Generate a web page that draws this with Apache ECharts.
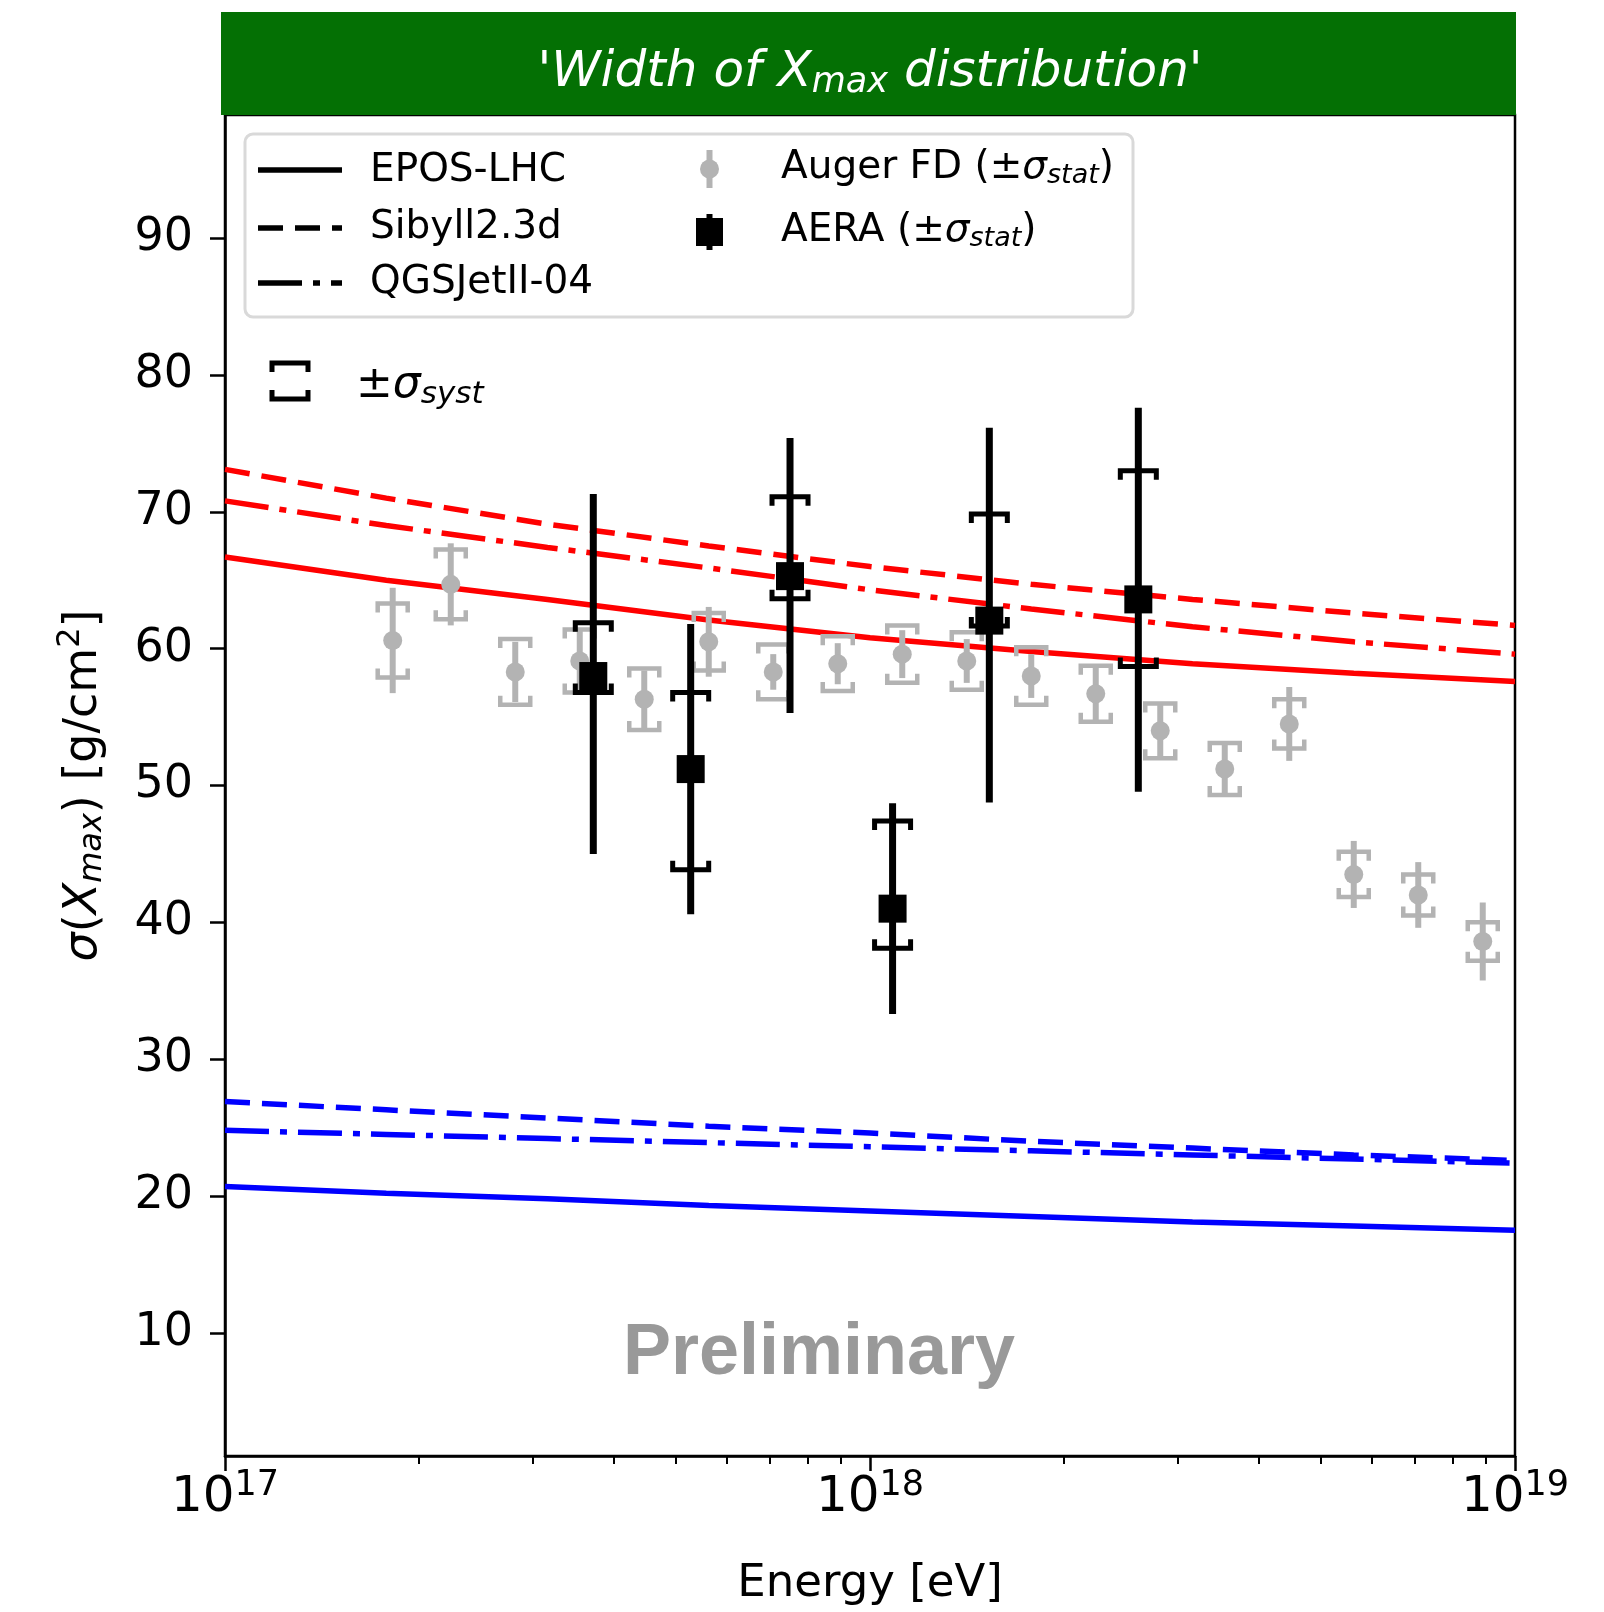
<!DOCTYPE html>
<html>
<head>
<meta charset="utf-8">
<script src="https://cdn.jsdelivr.net/npm/echarts@6/dist/echarts.min.js"></script>
<style>
html, body { margin: 0; padding: 0; background: #fff; }
#chart { width: 1604px; height: 1612px; }
</style>
</head>
<body>
<div id="chart"></div>
<script>
// model predictions (proton = red, iron = blue), read at these log10(E/eV)
var modelLogE = [17.0, 17.25, 17.5, 17.75, 18.0, 18.25, 18.5, 18.75, 19.0];
var eposP   = [66.7, 65.0, 63.6, 62.1, 60.8, 59.8, 58.9, 58.2, 57.6];
var sibyllP = [73.1, 71.0, 69.1, 67.5, 66.0, 64.7, 63.6, 62.6, 61.7];
var qgsjetP = [70.8, 69.0, 67.4, 65.9, 64.3, 62.9, 61.6, 60.5, 59.6];
var eposFe   = [20.7, 20.2, 19.8, 19.3, 18.9, 18.5, 18.1, 17.8, 17.5];
var sibyllFe = [26.9, 26.3, 25.7, 25.1, 24.6, 24.0, 23.5, 23.0, 22.6];
var qgsjetFe = [24.8, 24.5, 24.2, 23.9, 23.6, 23.3, 23.0, 22.7, 22.4];

// Auger FD
var augerLogE = [17.26, 17.35, 17.45, 17.55, 17.65, 17.75, 17.85, 17.95, 18.05,
                 18.15, 18.25, 18.35, 18.45, 18.55, 18.65, 18.75, 18.85, 18.95];
var augerVal  = [60.6, 64.7, 58.3, 59.1, 56.3, 60.5, 58.3, 58.9, 59.6,
                 59.1, 58.0, 56.7, 54.0, 51.2, 54.5, 43.5, 42.0, 38.6];
var augerStat = [3.85, 3.0, 2.2, 2.2, 2.1, 2.55, 1.3, 1.5, 1.75,
                 1.6, 1.6, 1.95, 1.9, 1.9, 2.7, 2.45, 2.4, 2.85];
var augerSyst = [2.7, 2.55, 2.4, 2.3, 2.25, 2.1, 2.0, 2.0, 2.1,
                 2.1, 2.1, 2.05, 2.0, 1.9, 1.8, 1.65, 1.5, 1.4];

// AERA
var aeraLogE = [17.571, 17.722, 17.876, 18.035, 18.185, 18.416];
var aeraVal  = [58.0, 51.2, 65.3, 41.0, 62.05, 63.6];
var aeraStatUp   = [13.3, 10.6, 10.1, 7.7, 14.1, 14.0];
var aeraStatDown = [13.0, 10.6, 10.0, 7.7, 13.3, 14.05];
var aeraSystUp   = [3.9, 5.6, 5.8, 6.4, 7.8, 9.4];
var aeraSystDown = [1.2, 7.35, 1.65, 2.9, 0.4, 4.9];

var yTicks = [10, 20, 30, 40, 50, 60, 70, 80, 90];
var xMinorTicks = [];
[17, 18].forEach(function (d) {
    for (var k = 2; k <= 9; k++) xMinorTicks.push(d + Math.log10(k));
});

var RED = '#ff0000', BLUE = '#0000ff', GRAY = '#b3b3b3';
var FONT = 'DejaVu Sans';
var dashS = [25, 12];
var dashQ = [44, 11, 7, 11];

function pairs(xs, ys) {
    return xs.map(function (x, i) { return [x, ys[i]]; });
}

function modelLine(name, ys, color, dash) {
    return {
        name: name, type: 'line', data: pairs(modelLogE, ys),
        showSymbol: false, smooth: false, z: 2,
        lineStyle: { color: color, width: 5.5, type: dash || 'solid', cap: 'butt' }
    };
}

function errLine(color, width) {
    return function (params, api) {
        var a = api.coord([api.value(0), api.value(2)]);
        var b = api.coord([api.value(0), api.value(3)]);
        return {
            type: 'line',
            shape: { x1: a[0], y1: a[1], x2: b[0], y2: b[1] },
            style: { stroke: color, lineWidth: width }
        };
    };
}

function brackets(color, width, half, leg) {
    return function (params, api) {
        var lo = api.coord([api.value(0), api.value(2)]);
        var hi = api.coord([api.value(0), api.value(3)]);
        var x = hi[0];
        var st = { stroke: color, lineWidth: width, fill: 'none', lineJoin: 'miter' };
        return {
            type: 'group',
            children: [
                { type: 'polyline', shape: { points: [[x - half, hi[1] + leg], [x - half, hi[1]], [x + half, hi[1]], [x + half, hi[1] + leg]] }, style: st },
                { type: 'polyline', shape: { points: [[x - half, lo[1] - leg], [x - half, lo[1]], [x + half, lo[1]], [x + half, lo[1] - leg]] }, style: st }
            ]
        };
    };
}

var augerStatData = augerLogE.map(function (x, i) {
    return [x, augerVal[i], augerVal[i] - augerStat[i], augerVal[i] + augerStat[i]];
});
var augerSystData = augerLogE.map(function (x, i) {
    return [x, augerVal[i], augerVal[i] - augerSyst[i], augerVal[i] + augerSyst[i]];
});
var aeraStatData = aeraLogE.map(function (x, i) {
    return [x, aeraVal[i], aeraVal[i] - aeraStatDown[i], aeraVal[i] + aeraStatUp[i]];
});
var aeraSystData = aeraLogE.map(function (x, i) {
    return [x, aeraVal[i], aeraVal[i] - aeraSystDown[i], aeraVal[i] + aeraSystUp[i]];
});

var chart = echarts.init(document.getElementById('chart'));

var gridBox = { left: 225, right: 89, top: 115, bottom: 155 };

var LZ = 60;   // legend contents drawn above legend frame

function legendLine(y, dash) {
    return {
        type: 'line', z: LZ, shape: { x1: 258, y1: y, x2: 342, y2: y },
        style: { stroke: '#000', lineWidth: 5.5, lineDash: dash || null, lineCap: 'butt' }
    };
}
function legendText(x, y, text, size) {
    size = size || 39;
    var subSize = Math.round(size * 0.7);
    return {
        type: 'text', x: x, y: y, z: LZ,
        style: {
            text: text, fontFamily: FONT, fontSize: size, fill: '#000',
            verticalAlign: 'middle', align: 'left',
            rich: {
                it: { fontFamily: FONT, fontStyle: 'italic', fontSize: size, fill: '#000' },
                sub: { fontFamily: FONT, fontStyle: 'italic', fontSize: subSize, padding: [Math.round(size * 0.42), 0, 0, 0], fill: '#000' },
                n: { fontFamily: FONT, fontSize: size, fill: '#000' }
            }
        }
    };
}
function bracketShape(x, yTop, yBot, half, leg, w) {
    var st = { stroke: '#000', lineWidth: w, fill: 'none' };
    return [
        { type: 'polyline', z: LZ, shape: { points: [[x - half, yTop + leg], [x - half, yTop], [x + half, yTop], [x + half, yTop + leg]] }, style: st },
        { type: 'polyline', z: LZ, shape: { points: [[x - half, yBot - leg], [x - half, yBot], [x + half, yBot], [x + half, yBot - leg]] }, style: st }
    ];
}
var systKey = bracketShape(290, 363, 399, 18, 9, 5);

var option = {
    animation: false,
    backgroundColor: '#fff',
    grid: [
        { left: gridBox.left, right: gridBox.right, top: gridBox.top, bottom: gridBox.bottom,
          show: true, borderColor: '#000', borderWidth: 2.5, backgroundColor: 'transparent' },
        { left: gridBox.left, right: gridBox.right, top: gridBox.top, bottom: gridBox.bottom }
    ],
    xAxis: [
        {
            type: 'value', gridIndex: 0, min: 17, max: 19, interval: 1,
            axisLine: { show: true, lineStyle: { color: '#000', width: 2.5 } },
            axisTick: { show: true, length: 15, lineStyle: { color: '#000', width: 2.5 } },
            splitLine: { show: false },
            axisLabel: {
                margin: 12, color: '#000',
                formatter: function (v) { return '{b|10}{s|' + v + '}'; },
                rich: {
                    b: { fontFamily: FONT, fontSize: 50, color: '#000' },
                    s: { fontFamily: FONT, fontSize: 35, color: '#000', padding: [0, 0, 26, 0] }
                }
            },
            name: 'Energy [eV]', nameLocation: 'middle', nameGap: 106,
            nameTextStyle: { fontFamily: FONT, fontSize: 45, color: '#000' }
        },
        {
            type: 'value', gridIndex: 1, min: 17, max: 19, position: 'bottom',
            axisLine: { show: false },
            axisTick: { show: true, length: 7, customValues: xMinorTicks, lineStyle: { color: '#000', width: 2 } },
            axisLabel: { show: false },
            splitLine: { show: false }
        }
    ],
    yAxis: [
        {
            type: 'value', gridIndex: 0, min: 1, max: 99,
            axisLine: { show: true, lineStyle: { color: '#000', width: 2.5 } },
            axisTick: { show: true, length: 15, customValues: yTicks, lineStyle: { color: '#000', width: 2.5 } },
            axisLabel: { customValues: yTicks, margin: 32, fontFamily: FONT, fontSize: 46, color: '#000' },
            splitLine: { show: false },
            name: '{it|σ}{n|(}{it|X}{sb|max}{n|) [g/cm}{sp|2}{n|]}',
            nameLocation: 'middle', nameGap: 112,
            nameTextStyle: {
                fontFamily: FONT, fontSize: 46, color: '#000',
                rich: {
                    it: { fontFamily: FONT, fontStyle: 'italic', fontSize: 46, color: '#000' },
                    n: { fontFamily: FONT, fontSize: 46, color: '#000' },
                    sb: { fontFamily: FONT, fontStyle: 'italic', fontSize: 32, color: '#000', padding: [18, 0, 0, 0] },
                    sp: { fontFamily: FONT, fontSize: 32, color: '#000', padding: [0, 0, 26, 0] }
                }
            }
        },
        { type: 'value', gridIndex: 1, min: 1, max: 99, show: false }
    ],
    series: [
        modelLine('EPOS-LHC p', eposP, RED),
        modelLine('Sibyll2.3d p', sibyllP, RED, dashS),
        modelLine('QGSJetII-04 p', qgsjetP, RED, dashQ),
        modelLine('EPOS-LHC Fe', eposFe, BLUE),
        modelLine('Sibyll2.3d Fe', sibyllFe, BLUE, dashS),
        modelLine('QGSJetII-04 Fe', qgsjetFe, BLUE, dashQ),
        {
            name: 'Auger syst', type: 'custom', data: augerSystData, z: 3,
            encode: { x: 0, y: [1, 2, 3] },
            renderItem: brackets(GRAY, 4.5, 15, 9)
        },
        {
            name: 'Auger stat', type: 'custom', data: augerStatData, z: 3,
            encode: { x: 0, y: [1, 2, 3] },
            renderItem: errLine(GRAY, 6)
        },
        {
            name: 'Auger FD', type: 'scatter', data: pairs(augerLogE, augerVal), z: 4,
            symbol: 'circle', symbolSize: 19, itemStyle: { color: GRAY, opacity: 1 }
        },
        {
            name: 'AERA syst', type: 'custom', data: aeraSystData, z: 5,
            encode: { x: 0, y: [1, 2, 3] },
            renderItem: brackets('#000', 5, 18, 9)
        },
        {
            name: 'AERA stat', type: 'custom', data: aeraStatData, z: 5,
            encode: { x: 0, y: [1, 2, 3] },
            renderItem: errLine('#000', 7)
        },
        {
            name: 'AERA', type: 'scatter', data: pairs(aeraLogE, aeraVal), z: 6,
            symbol: 'rect', symbolSize: 28, itemStyle: { color: '#000', opacity: 1 }
        }
    ],
    graphic: [
        // title banner
        { type: 'rect', shape: { x: 221, y: 12, width: 1295, height: 103 }, style: { fill: '#047004' }, z: 100 },
        {
            type: 'text', x: 870, y: 73, z: 101,
            style: {
                text: "{t|'Width of X}{s|max}{t| distribution'}",
                align: 'center', verticalAlign: 'middle',
                rich: {
                    t: { fontFamily: FONT, fontStyle: 'italic', fontSize: 50, fill: '#fff' },
                    s: { fontFamily: FONT, fontStyle: 'italic', fontSize: 35, fill: '#fff', padding: [20, 0, 0, 0] }
                }
            }
        },
        // legend frame
        {
            type: 'rect', shape: { x: 245, y: 134, width: 888, height: 183, r: 8 }, z: 50,
            style: { fill: '#fff', stroke: '#d9d9d9', lineWidth: 3 }
        },
        legendLine(170),
        legendLine(228, dashS),
        legendLine(283, dashQ),
        legendText(370, 171, 'EPOS-LHC'),
        legendText(370, 228, 'Sibyll2.3d'),
        legendText(370, 283, 'QGSJetII-04'),
        { type: 'line', z: LZ, shape: { x1: 709.5, y1: 150, x2: 709.5, y2: 188 }, style: { stroke: GRAY, lineWidth: 6 } },
        { type: 'circle', z: LZ, shape: { cx: 709.5, cy: 169, r: 9.5 }, style: { fill: GRAY } },
        { type: 'line', z: LZ, shape: { x1: 709.5, y1: 214, x2: 709.5, y2: 250 }, style: { stroke: '#000', lineWidth: 6 } },
        { type: 'rect', z: LZ, shape: { x: 696, y: 218, width: 27, height: 28 }, style: { fill: '#000' } },
        legendText(781, 168, '{n|Auger FD (±}{it|σ}{sub|stat}{n|)}'),
        legendText(781, 231, '{n|AERA (±}{it|σ}{sub|stat}{n|)}'),
        // systematic bracket key
        systKey[0],
        systKey[1],
        legendText(356, 386, '{n|±}{it|σ}{sub|syst}', 44),
        // preliminary stamp
        {
            type: 'text', x: 819, y: 1354, z: 20,
            style: {
                text: 'Preliminary', align: 'center', verticalAlign: 'middle',
                fontFamily: 'Liberation Sans', fontWeight: 'bold', fontSize: 72, fill: '#999999'
            }
        }
    ]
};

chart.setOption(option);
window.onresize = chart.resize;
</script>
</body>
</html>
